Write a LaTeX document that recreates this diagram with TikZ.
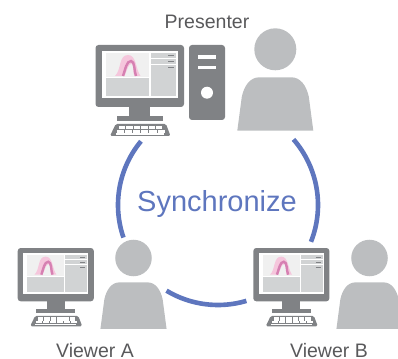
\documentclass[tikz,border=0pt]{standalone}
\usepackage{fontspec}
\setmainfont{Liberation Sans}
\definecolor{pcgray}{RGB}{128,130,133}
\definecolor{bodygray}{RGB}{188,190,192}
\definecolor{panelgray}{RGB}{209,211,212}
\definecolor{syncblue}{RGB}{94,118,190}
\definecolor{labelgray}{RGB}{89,89,91}
\definecolor{slidepink}{RGB}{245,198,220}
\definecolor{slidedark}{RGB}{214,128,178}
\tikzset{
  syncarc/.style={draw=syncblue, line width=4.6pt},
  rolelabel/.style={text=labelgray, anchor=base, inner sep=0pt, font=\fontsize{19.5}{22}\selectfont},
  pcpart/.style={fill=pcgray, draw=none},
  panel/.style={fill=panelgray, draw=none},
  monitor/.pic={
    % Case, stand and keyboard
    \fill[pcpart, rounded corners=3] (0,0) rectangle (88.5,62);
    \fill[pcpart] (33.8,62) rectangle (54.5,71);
    \fill[pcpart] (21.2,71) rectangle (67.2,76);
    \fill[pcpart, rounded corners=1.5] (20.2,79) -- (70.5,79) -- (75,91) -- (14.5,91) -- cycle;
    \foreach \k in {0,...,5} {
      \fill[white] (23.5+\k*7.4,80.7) rectangle ++(6.4,3.6);
      \fill[white] (21.5+\k*8.1,85.2) rectangle ++(7.1,2.4);
    }
    \fill[white] (20,88.4) rectangle (68,89.6);
    % Screen
    \fill[white] (6.5,6) rectangle (82,53);
    \fill[black!6] (10.8,8.3) rectangle (53.8,32.3);
    \fill[panel] (10.8,33.5) rectangle (53.8,51);
    \fill[panel] (55.2,7.7) rectangle (80.5,13);
    \fill[panel] (55.2,14.3) rectangle (80.5,18.7);
    \fill[panel] (55.2,19.7) rectangle (80.5,51);
    \foreach \y in {10.4,16.5,22.4}
      \draw[pcgray, line width=0.7pt] (72.5,\y) -- (78.5,\y);
    % Slide picture
    \fill[slidepink] (19.5,31) .. controls (26,25) and (23,10) .. (32.5,10) .. controls (41,10) and (40,24) .. (45,31) -- cycle;
    \fill[black!6] (29,31.5) .. controls (32,24) and (33,19) .. (36,19) .. controls (38,19) and (37.5,26) .. (38.5,31.5) -- cycle;
    \draw[slidedark, line width=2.4pt] (27.5,31) .. controls (30,24) and (31,16) .. (35.5,16) .. controls (39.5,16) and (38.5,26) .. (40.5,31);
  },
  person/.pic={
    \fill[bodygray] (0,0) circle (21);
    \fill[bodygray] (-38,81.4) -- (-33.5,47.4) .. controls (-31,36) and (-25,28) .. (-16,28) -- (16,28) .. controls (25,28) and (31,36) .. (33.5,47.4) -- (38,81.4) -- cycle;
  }
}
\begin{document}
\begin{tikzpicture}[x=1pt, y=1pt, yscale=-1]
\useasboundingbox (0,0) rectangle (398,358);

% Synchronize ring
\coordinate (hub) at (218,205);
\draw[syncarc] (hub) ++(219.6:100) arc[start angle=219.6, end angle=161, radius=100];
\draw[syncarc] (hub) ++(-41:100) arc[start angle=-41, end angle=21.6, radius=100];
\draw[syncarc] (hub) ++(121:100) arc[start angle=121, end angle=73.5, radius=100];
\node[text=syncblue, anchor=base, font=\fontsize{29}{33}\selectfont] (synctext) at (217,211) {Synchronize};

% Presenter
\pic[yscale=-1] at (95.5,45) {monitor};
\fill[pcpart, rounded corners=3] (189,45) rectangle (225,120);
\fill[white] (198,55) rectangle (216,59);
\fill[white] (198,65.7) rectangle (216,69);
\fill[white] (207,92.7) circle (6);
\pic[yscale=-1] at (275.3,49.3) {person};
\node[rolelabel] (presenter) at (207,29) {Presenter};

% Viewer A
\pic[scale=0.86, yscale=-1] at (17.7,248) {monitor};
\pic[scale=0.87, yscale=-1] at (133.5,258) {person};
\node[rolelabel] (viewera) at (95,357) {Viewer A};

% Viewer B
\pic[scale=0.86, yscale=-1] at (253.3,248) {monitor};
\pic[scale=0.87, yscale=-1] at (369.5,258) {person};
\node[rolelabel] (viewerb) at (329,357) {Viewer B};
\end{tikzpicture}
\end{document}
